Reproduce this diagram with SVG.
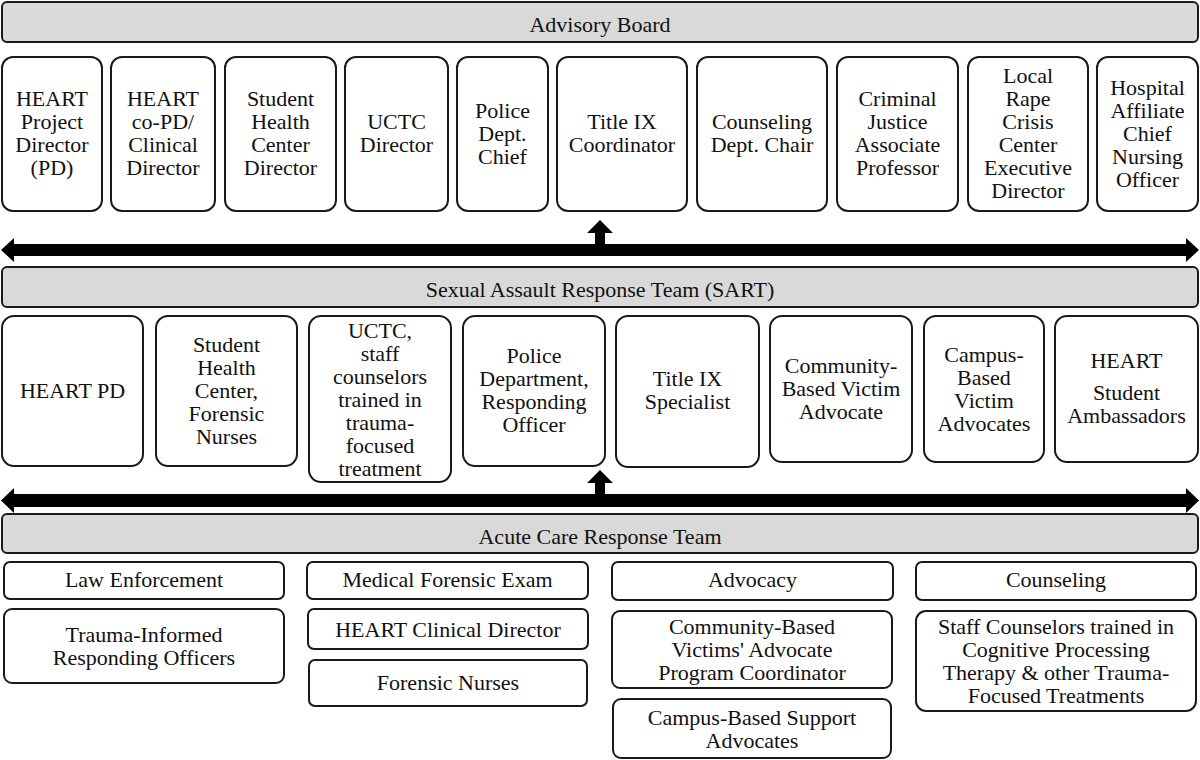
<svg xmlns="http://www.w3.org/2000/svg" width="1200" height="760" viewBox="0 0 1200 760">
<style>
.hdr{fill:#d9d9d9;stroke:#1a1a1a;stroke-width:2}
.box{fill:#fff;stroke:#1a1a1a;stroke-width:2}
text{font-family:"Liberation Serif","Times New Roman",serif;font-size:22px;fill:#111;text-anchor:middle}
.arr{fill:#000}
</style>
<rect width="1200" height="760" fill="#fff"/>

<g id="advisory-board"><rect class="hdr" x="2" y="2" width="1196" height="40" rx="5"/><text x="600" y="32">Advisory Board</text></g>

<g id="ab1"><rect class="box" x="2" y="57" width="100" height="154" rx="11"/><text x="52" y="106">HEART</text><text x="52" y="129">Project</text><text x="52" y="152">Director</text><text x="52" y="175">(PD)</text></g>
<g id="ab2"><rect class="box" x="111" y="57" width="104" height="154" rx="11"/><text x="163" y="106">HEART</text><text x="163" y="129">co-PD/</text><text x="163" y="152">Clinical</text><text x="163" y="175">Director</text></g>
<g id="ab3"><rect class="box" x="225" y="57" width="111" height="154" rx="11"/><text x="280.5" y="106">Student</text><text x="280.5" y="129">Health</text><text x="280.5" y="152">Center</text><text x="280.5" y="175">Director</text></g>
<g id="ab4"><rect class="box" x="345" y="57" width="103" height="154" rx="11"/><text x="396.5" y="129">UCTC</text><text x="396.5" y="152">Director</text></g>
<g id="ab5"><rect class="box" x="457" y="57" width="91" height="154" rx="11"/><text x="502.5" y="117.5">Police</text><text x="502.5" y="140.5">Dept.</text><text x="502.5" y="163.5">Chief</text></g>
<g id="ab6"><rect class="box" x="557" y="57" width="130" height="154" rx="11"/><text x="622" y="129">Title IX</text><text x="622" y="152">Coordinator</text></g>
<g id="ab7"><rect class="box" x="697" y="57" width="130" height="154" rx="11"/><text x="762" y="129">Counseling</text><text x="762" y="152">Dept. Chair</text></g>
<g id="ab8"><rect class="box" x="837" y="57" width="121" height="154" rx="11"/><text x="897.5" y="106">Criminal</text><text x="897.5" y="129">Justice</text><text x="897.5" y="152">Associate</text><text x="897.5" y="175">Professor</text></g>
<g id="ab9"><rect class="box" x="968" y="57" width="120" height="154" rx="11"/><text x="1028" y="83">Local</text><text x="1028" y="106">Rape</text><text x="1028" y="129">Crisis</text><text x="1028" y="152">Center</text><text x="1028" y="175">Executive</text><text x="1028" y="198">Director</text></g>
<g id="ab10"><rect class="box" x="1097" y="57" width="101" height="154" rx="11"/><text x="1147.5" y="94.5">Hospital</text><text x="1147.5" y="117.5">Affiliate</text><text x="1147.5" y="140.5">Chief</text><text x="1147.5" y="163.5">Nursing</text><text x="1147.5" y="186.5">Officer</text></g>

<g id="sart"><rect class="hdr" x="2" y="267" width="1196" height="40" rx="5"/><text x="600" y="297">Sexual Assault Response Team (SART)</text></g>

<g id="s1"><rect class="box" x="2" y="316" width="141" height="150" rx="12"/><text x="72.5" y="398">HEART PD</text></g>
<g id="s2"><rect class="box" x="156" y="316" width="141" height="150" rx="12"/><text x="226.5" y="352">Student</text><text x="226.5" y="375">Health</text><text x="226.5" y="398">Center,</text><text x="226.5" y="421">Forensic</text><text x="226.5" y="444">Nurses</text></g>
<g id="s3"><rect class="box" x="309" y="316" width="142" height="166" rx="12"/><text x="380" y="338">UCTC,</text><text x="380" y="361">staff</text><text x="380" y="384">counselors</text><text x="380" y="407">trained in</text><text x="380" y="430">trauma-</text><text x="380" y="453">focused</text><text x="380" y="476">treatment</text></g>
<g id="s4"><rect class="box" x="463" y="316" width="142" height="150" rx="12"/><text x="534" y="363">Police</text><text x="534" y="386">Department,</text><text x="534" y="409">Responding</text><text x="534" y="432">Officer</text></g>
<g id="s5"><rect class="box" x="616" y="316" width="143" height="151" rx="12"/><text x="687.5" y="386">Title IX</text><text x="687.5" y="409">Specialist</text></g>
<g id="s6"><rect class="box" x="770" y="316" width="142" height="146" rx="12"/><text x="841" y="373">Community-</text><text x="841" y="396">Based Victim</text><text x="841" y="419">Advocate</text></g>
<g id="s7"><rect class="box" x="924" y="316" width="120" height="146" rx="12"/><text x="984" y="362">Campus-</text><text x="984" y="385">Based</text><text x="984" y="408">Victim</text><text x="984" y="431">Advocates</text></g>
<g id="s8"><rect class="box" x="1055" y="316" width="143" height="146" rx="12"/><text x="1126.5" y="368">HEART</text><text x="1126.5" y="400">Student</text><text x="1126.5" y="423">Ambassadors</text></g>

<g id="acute"><rect class="hdr" x="2" y="514" width="1196" height="39" rx="5"/><text x="600" y="544">Acute Care Response Team</text></g>

<g id="law"><rect class="box" x="4" y="562" width="280" height="37" rx="6"/><text x="144" y="587">Law Enforcement</text></g>
<g id="law1"><rect class="box" x="4" y="609" width="280" height="74" rx="8"/><text x="144" y="642">Trauma-Informed</text><text x="144" y="665">Responding Officers</text></g>
<g id="med"><rect class="box" x="307" y="562" width="281" height="37" rx="6"/><text x="447.5" y="587">Medical Forensic Exam</text></g>
<g id="med1"><rect class="box" x="308" y="609" width="280" height="40" rx="6"/><text x="448" y="637">HEART Clinical Director</text></g>
<g id="med2"><rect class="box" x="309" y="660" width="278" height="46" rx="6"/><text x="448" y="690">Forensic Nurses</text></g>
<g id="adv"><rect class="box" x="612" y="562" width="281" height="38" rx="6"/><text x="752.5" y="587">Advocacy</text></g>
<g id="adv1"><rect class="box" x="612" y="611" width="280" height="77" rx="8"/><text x="752" y="634">Community-Based</text><text x="752" y="657">Victims' Advocate</text><text x="752" y="680">Program Coordinator</text></g>
<g id="adv2"><rect class="box" x="613" y="699" width="278" height="59" rx="8"/><text x="752" y="725">Campus-Based Support</text><text x="752" y="748">Advocates</text></g>
<g id="cou"><rect class="box" x="916" y="562" width="280" height="38" rx="6"/><text x="1056" y="587">Counseling</text></g>
<g id="cou1"><rect class="box" x="916" y="611" width="280" height="100" rx="10"/><text x="1056" y="634">Staff Counselors trained in</text><text x="1056" y="657">Cognitive Processing</text><text x="1056" y="680">Therapy &amp; other Trauma-</text><text x="1056" y="703">Focused Treatments</text></g>

<g id="connectors">
<polygon class="arr" points="1,250 14,238 14,244 1186,244 1186,238 1199,250 1186,262 1186,256 14,256 14,262"/>
<polygon class="arr" points="600,220 613,233 605,233 605,245 595,245 595,233 587,233"/>
<polygon class="arr" points="1,500.5 14,488 14,494 1186,494 1186,488 1199,500.5 1186,513 1186,507 14,507 14,513"/>
<polygon class="arr" points="600,470 613,483 605,483 605,495 595,495 595,483 587,483"/>
</g>
</svg>
